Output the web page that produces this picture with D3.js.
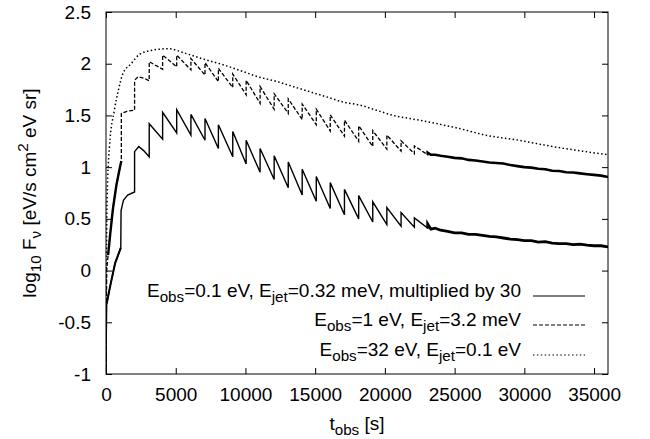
<!DOCTYPE html>
<html lang="en">
<head>
  <meta charset="utf-8">
  <title>log10 F_nu against t_obs</title>
  <script src="https://d3js.org/d3.v7.js"></script>
  <style>
    body { margin: 0; background: #fff; }
    text { font-family: "Liberation Sans", Arial, Helvetica, sans-serif; fill: #000; }
  </style>
</head>
<body>
<div id="my_dataviz"></div>
<script>
// tick values
var xTicks = [0, 5000, 10000, 15000, 20000, 25000, 30000, 35000];
var yTicks = [-1, -0.5, 0, 0.5, 1, 1.5, 2, 2.5];

// rise before the regular teeth start (t [s], log10 F)
var solidStart = [[0, -1], [15, -0.7], [50, -0.32], [300, -0.15], [650, 0.07], [1060, 0.22],
                  [1080, 0.58], [1250, 0.68], [1550, 0.73], [2050, 0.76], [2050, 1.15],
                  [2350, 1.20], [2700, 1.16], [3100, 1.10]];
var dashStart = [[0, -1], [15, -0.5], [50, 0], [150, 0.15], [300, 0.35], [500, 0.6],
                 [750, 0.83], [1000, 1.0], [1100, 1.06], [1100, 1.52], [1500, 1.54],
                 [2050, 1.55], [2050, 1.84], [2300, 1.875], [2700, 1.86], [3100, 1.836]];

// times of the jumps of the saw-tooth (same for both curves)
var jumpTimes = [3100, 4060, 5070, 6090, 7100, 8060, 9090, 10050, 11050, 12060, 13070,
                 14070, 15080, 16080, 17100, 18120, 19130, 20140, 21160, 22115, 23070];
// value just after each jump, and just before the next one
var solidPeak   = [1.42, 1.53, 1.555, 1.51, 1.47, 1.41, 1.345, 1.26, 1.18, 1.11, 1.05,
                   0.98, 0.91, 0.85, 0.785, 0.725, 0.665, 0.61, 0.56, 0.51, 0.45];
var solidTrough = [1.27, 1.33, 1.31, 1.26, 1.18, 1.10, 1.03, 0.95, 0.88, 0.80, 0.73,
                   0.67, 0.60, 0.54, 0.50, 0.47, 0.445, 0.43, 0.42, 0.41];
var dashPeak    = [2.02, 2.084, 2.084, 2.05, 2.01, 1.955, 1.90, 1.84, 1.78, 1.71, 1.66,
                   1.61, 1.56, 1.505, 1.455, 1.40, 1.352, 1.31, 1.255, 1.205, 1.14];
var dashTrough  = [1.946, 1.97, 1.94, 1.89, 1.826, 1.77, 1.70, 1.617, 1.56, 1.52, 1.46,
                   1.41, 1.35, 1.30, 1.25, 1.20, 1.175, 1.155, 1.13, 1.12];

// noisy tails after the teeth fade out
var tailTimes = [23300, 23600, 24000, 24500, 25000, 25500, 26000, 26500, 27000, 27500, 28000,
                 28500, 29000, 29500, 30000, 30500, 31000, 31500, 32000, 32500, 33000, 33500,
                 34000, 34500, 35000, 35500, 36000];
var solidTail = [0.40, 0.41, 0.39, 0.38, 0.365, 0.365, 0.35, 0.35, 0.34, 0.33, 0.325,
                 0.315, 0.305, 0.30, 0.29, 0.29, 0.275, 0.28, 0.265, 0.26, 0.26, 0.25,
                 0.255, 0.245, 0.24, 0.24, 0.228];
var dashTail  = [1.12, 1.12, 1.11, 1.10, 1.09, 1.085, 1.07, 1.065, 1.055, 1.045, 1.04,
                 1.035, 1.02, 1.01, 1.0, 0.995, 0.985, 0.98, 0.965, 0.962, 0.95, 0.948,
                 0.94, 0.932, 0.925, 0.918, 0.905];

// smooth curve, E_obs = 32 eV
var dotT = [0, 30, 80, 250, 600, 900, 1200, 1800, 2400, 3300, 4500, 5700, 7100, 8400, 9500,
            11000, 12200, 13400, 14600, 15800, 17000, 18200, 19400, 20600, 21800, 23000,
            24100, 25300, 27200, 29600, 32000, 34400, 36000];
var dotV = [-1, 0, 0.7, 1.2, 1.55, 1.75, 1.90, 2.00, 2.09, 2.13, 2.145, 2.10, 2.04, 1.99, 1.94,
            1.87, 1.83, 1.78, 1.73, 1.68, 1.63, 1.60, 1.55, 1.50, 1.47, 1.44,
            1.41, 1.375, 1.31, 1.26, 1.20, 1.15, 1.12];

var legendLabels = [
  [["E"], ["obs", "sub"], ["=0.1 eV, E"], ["jet", "sub"], ["=0.32 meV, multiplied by 30"]],
  [["E"], ["obs", "sub"], ["=1 eV, E"], ["jet", "sub"], ["=3.2 meV"]],
  [["E"], ["obs", "sub"], ["=32 eV, E"], ["jet", "sub"], ["=0.1 eV"]]
];

var W = 650, H = 439;
var margin = {top: 12, right: 42, bottom: 65, left: 106},
    width = W - margin.left - margin.right,
    height = H - margin.top - margin.bottom;

var svg = d3.select("#my_dataviz")
  .append("svg")
  .attr("width", W)
  .attr("height", H);
var g = svg.append("g")
  .attr("transform", "translate(" + margin.left + "," + margin.top + ")");

var x = d3.scaleLinear().domain([0, 36000]).range([0, width]);
var y = d3.scaleLinear().domain([-1, 2.5]).range([height, 0]);

// build the saw-tooth point lists
function teeth(start, peak, trough, tail) {
  var pts = start.slice();
  jumpTimes.forEach(function(t, i) {
    pts.push([t, peak[i]]);
    if (i < jumpTimes.length - 1) pts.push([jumpTimes[i + 1], trough[i]]);
  });
  tailTimes.forEach(function(t, i) { pts.push([t, tail[i]]); });
  return pts;
}
var solidPts = teeth(solidStart, solidPeak, solidTrough, solidTail);
var dashPts = teeth(dashStart, dashPeak, dashTrough, dashTail);
var dotPts = dotT.map(function(t, i) { return [t, dotV[i]]; });

var line = d3.line()
  .x(function(d) { return x(d[0]); })
  .y(function(d) { return y(d[1]); });
var smooth = d3.line()
  .x(function(d) { return x(d[0]); })
  .y(function(d) { return y(d[1]); })
  .curve(d3.curveMonotoneX);

g.append("defs").append("clipPath").attr("id", "clip")
  .append("rect").attr("width", width).attr("height", height);
var plot = g.append("g").attr("clip-path", "url(#clip)");

plot.append("path").datum(dotPts)
  .attr("d", smooth)
  .attr("fill", "none").attr("stroke", "#000")
  .attr("stroke-width", 1.5).attr("stroke-dasharray", "1.5,2.4");

plot.append("path").datum(dashPts.filter(function(d) { return d[0] <= 23070; }))
  .attr("d", line)
  .attr("fill", "none").attr("stroke", "#000")
  .attr("stroke-width", 1.3).attr("stroke-dasharray", "4,2");
// dense, noisy parts look like a thick solid line
plot.append("path").datum(dashPts.filter(function(d) { return d[0] >= 23070; }))
  .attr("d", line)
  .attr("fill", "none").attr("stroke", "#000").attr("stroke-width", 2.6);
plot.append("path").datum(dashStart.slice(3, 9))
  .attr("d", line)
  .attr("fill", "none").attr("stroke", "#000").attr("stroke-width", 2.4);

plot.append("path").datum(solidPts)
  .attr("d", line)
  .attr("fill", "none").attr("stroke", "#000").attr("stroke-width", 1.4);
plot.append("path").datum(solidStart.slice(2, 6))
  .attr("d", line)
  .attr("fill", "none").attr("stroke", "#000").attr("stroke-width", 2);
plot.append("path").datum(solidPts.filter(function(d) { return d[0] >= 23070; }))
  .attr("d", line)
  .attr("fill", "none").attr("stroke", "#000").attr("stroke-width", 2.8);

// frame
g.append("rect").attr("width", width).attr("height", height)
  .attr("fill", "none").attr("stroke", "#000").attr("stroke-width", 1);

// axes with inward ticks, mirrored on top and right
var fs = 19;
g.append("g").attr("transform", "translate(0," + height + ")")
  .call(d3.axisBottom(x).tickValues(xTicks).tickFormat(d3.format("d")).tickSizeInner(-6).tickSizeOuter(0).tickPadding(14))
  .call(function(a) { a.select(".domain").remove(); a.selectAll("text").attr("font-size", fs).attr("font-family", null); });
g.append("g")
  .call(d3.axisTop(x).tickValues(xTicks).tickFormat("").tickSizeInner(-6).tickSizeOuter(0))
  .call(function(a) { a.select(".domain").remove(); });
g.append("g")
  .call(d3.axisLeft(y).tickValues(yTicks).tickFormat(function(d) { return String(d); }).tickSizeInner(-6).tickSizeOuter(0).tickPadding(15))
  .call(function(a) { a.select(".domain").remove(); a.selectAll("text").attr("font-size", fs).attr("font-family", null); });
g.append("g").attr("transform", "translate(" + width + ",0)")
  .call(d3.axisRight(y).tickValues(yTicks).tickFormat("").tickSizeInner(-6).tickSizeOuter(0))
  .call(function(a) { a.select(".domain").remove(); });

// rich text helper: parts = [[text, "sub"|"sup"|undefined], ...]
function rich(sel, parts) {
  var shift = 0;
  parts.forEach(function(p) {
    var target = p[1] === "sub" ? 5 : p[1] === "sup" ? -8 : 0;
    sel.append("tspan")
      .attr("dy", target - shift)
      .attr("font-size", p[1] ? fs * 0.8 : fs)
      .text(p[0]);
    shift = target;
  });
}

// legend
var legendRowY = [285, 314, 344];
var legendDash = [null, "4,2", "1.5,2.4"];
legendLabels.forEach(function(parts, i) {
  var t = g.append("text")
    .attr("x", 415).attr("y", legendRowY[i])
    .attr("text-anchor", "end")
    .attr("font-size", fs);
  rich(t, parts);
  g.append("line")
    .attr("x1", 427).attr("x2", 479)
    .attr("y1", legendRowY[i] - 1).attr("y2", legendRowY[i] - 1)
    .attr("stroke", "#000").attr("stroke-width", 1.2)
    .attr("stroke-dasharray", legendDash[i]);
});

// axis titles
var xl = svg.append("text")
  .attr("x", margin.left + width / 2).attr("y", 430)
  .attr("text-anchor", "middle").attr("font-size", fs);
rich(xl, [["t"], ["obs", "sub"], [" [s]"]]);

var yl = svg.append("text")
  .attr("transform", "translate(36," + (margin.top + height / 2) + ") rotate(-90)")
  .attr("text-anchor", "middle").attr("font-size", fs);
rich(yl, [["log"], ["10", "sub"], [" F"], ["\u03bd", "sub"], [" [eV/s cm"], ["2", "sup"], [" eV sr]"]]);
</script>
</body>
</html>
